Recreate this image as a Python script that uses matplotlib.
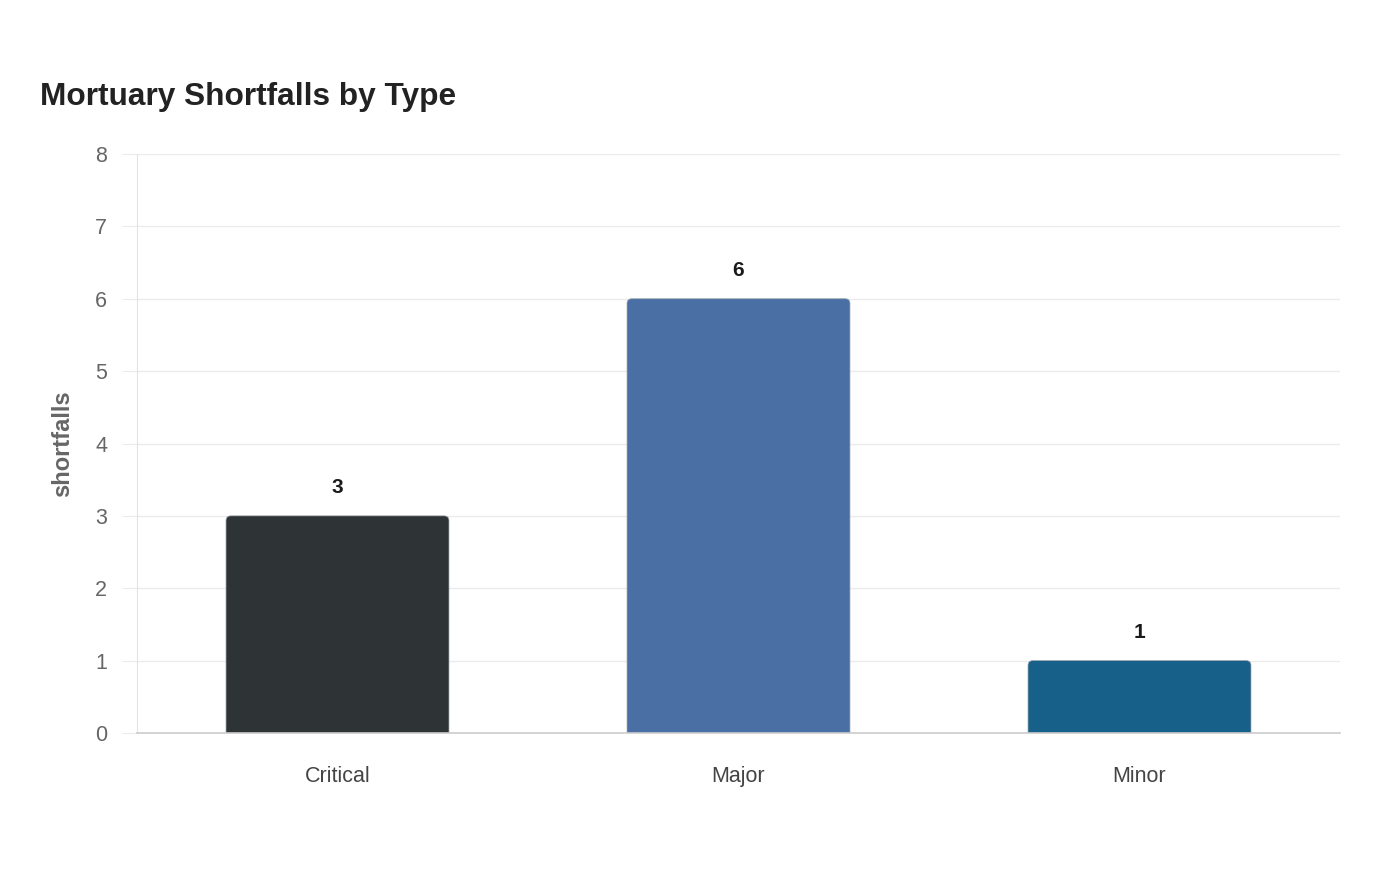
import matplotlib.pyplot as plt
from matplotlib.patches import FancyBboxPatch

plt.rcParams['font.family'] = ['Liberation Sans', 'DejaVu Sans']

categories = ["Critical", "Major", "Minor"]
shortfalls = [3, 6, 1]
bar_colors = ["#2e3436", "#4a6fa5", "#17608a"]

fig = plt.figure(figsize=(14, 8.8), dpi=100)
ax = fig.add_axes([137 / 1400, 147 / 880, 1203 / 1400, 579 / 880])

width = 0.556
for i, (cat, val, col) in enumerate(zip(categories, shortfalls, bar_colors)):
	patch = FancyBboxPatch((i - width / 2, -0.3), width, val + 0.3,
		boxstyle="round,pad=0,rounding_size=0.012", mutation_aspect=5.5,
		facecolor=col, edgecolor="#9aa0a6", linewidth=0.5, zorder=3)
	ax.add_patch(patch)
	ax.annotate(str(val), (i, val), xytext=(0, 20.5), textcoords="offset points",
		ha="center", va="center", fontsize=15, fontweight="bold", color="#1a1a1a")

ax.set_xlim(-0.5, 2.5)
ax.set_ylim(0, 8)
ax.set_xticks(range(len(categories)))
ax.set_xticklabels(categories)
ax.set_yticks(range(0, 9))

ax.grid(axis="y", color="#ebebeb", linewidth=1, zorder=0)
for s in ["top", "right"]:
	ax.spines[s].set_visible(False)
ax.spines["left"].set_color("#e3e3e3")
ax.spines["bottom"].set_color("#cccccc")
ax.spines["bottom"].set_linewidth(1.2)
ax.spines["bottom"].set_zorder(4)

ax.tick_params(axis="y", length=11, color="#ebebeb", labelsize=15.5, labelcolor="#666666", pad=10.5)
ax.tick_params(axis="x", length=0, labelsize=15.5, labelcolor="#444444", pad=23.5)

ax.set_ylabel("shortfalls", fontsize=17, fontweight="bold", color="#666666", labelpad=15)
fig.text(40 / 1400, 1 - 97 / 880, "Mortuary Shortfalls by Type", fontsize=22.8,
	fontweight="bold", color="#222222", ha="left", va="center")

fig.savefig("out.png", dpi=100)
